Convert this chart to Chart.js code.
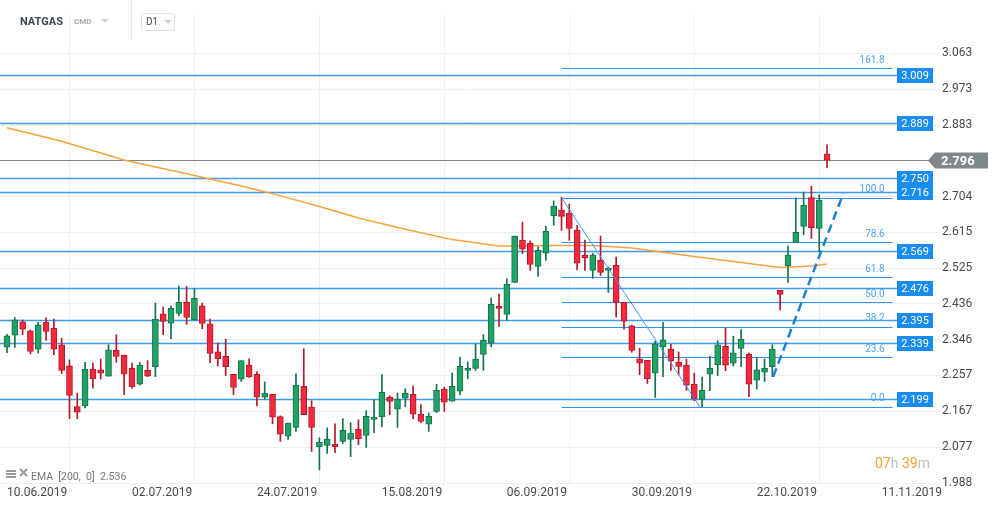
<!DOCTYPE html>
<html>
<head>
<meta charset="utf-8">
<script src="https://cdn.jsdelivr.net/npm/chart.js@4.4.1/dist/chart.umd.min.js"></script>
<style>
  html, body { margin: 0; padding: 0; background: #fff; }
  #wrap { width: 1001px; height: 509px; position: relative; }
</style>
</head>
<body>
<div id="wrap"><canvas id="chart" width="1001" height="509"></canvas></div>
<script>
// daily candles, index 0 = 10.06.2019
const opens = [2.328, 2.358, 2.391, 2.369, 2.323, 2.390, 2.375, 2.334, 2.281, 2.179,
  2.181, 2.273, 2.271, 2.255, 2.320, 2.308, 2.275, 2.235, 2.270, 2.279,
  2.411, 2.388, 2.412, 2.440, 2.396, 2.431, 2.386, 2.316, 2.305, 2.260,
  2.248, 2.283, 2.260, 2.203, 2.210, 2.154, 2.105, 2.127, 2.230, 2.178,
  2.079, 2.082, 2.085, 2.092, 2.097, 2.122, 2.107, 2.147, 2.154, 2.203,
  2.173, 2.200, 2.210, 2.160, 2.135, 2.167, 2.223, 2.193, 2.218, 2.270,
  2.275, 2.310, 2.338, 2.430, 2.410, 2.490, 2.596, 2.588, 2.530, 2.563,
  2.657, 2.671, 2.663, 2.621, 2.558, 2.520, 2.546, 2.520, 2.533, 2.440,
  2.381, 2.299, 2.295, 2.263, 2.329, 2.323, 2.290, 2.283, 2.235, 2.197,
  2.260, 2.284, 2.330, 2.288, 2.325, 2.310, 2.245, 2.265, 2.279, 2.470,
  2.532, 2.590, 2.630, 2.702, 2.625, 2.811]
const highs = [2.360, 2.402, 2.396, 2.371, 2.390, 2.401, 2.398, 2.350, 2.296, 2.213,
  2.290, 2.288, 2.298, 2.334, 2.359, 2.308, 2.288, 2.290, 2.294, 2.438,
  2.428, 2.431, 2.481, 2.480, 2.474, 2.438, 2.398, 2.338, 2.348, 2.260,
  2.294, 2.299, 2.266, 2.241, 2.210, 2.156, 2.138, 2.261, 2.324, 2.194,
  2.101, 2.126, 2.136, 2.149, 2.139, 2.146, 2.169, 2.196, 2.259, 2.206,
  2.213, 2.224, 2.231, 2.184, 2.163, 2.235, 2.228, 2.263, 2.303, 2.291,
  2.336, 2.359, 2.451, 2.461, 2.499, 2.606, 2.641, 2.594, 2.579, 2.631,
  2.694, 2.703, 2.686, 2.633, 2.596, 2.563, 2.606, 2.528, 2.553, 2.440,
  2.383, 2.325, 2.295, 2.343, 2.390, 2.335, 2.316, 2.298, 2.263, 2.253,
  2.305, 2.344, 2.376, 2.355, 2.372, 2.313, 2.303, 2.298, 2.334, 2.470,
  2.581, 2.701, 2.716, 2.731, 2.709, 2.834]
const lows = [2.314, 2.327, 2.359, 2.311, 2.313, 2.345, 2.309, 2.262, 2.149, 2.149,
  2.176, 2.225, 2.248, 2.255, 2.290, 2.209, 2.225, 2.233, 2.254, 2.254,
  2.359, 2.349, 2.406, 2.385, 2.395, 2.374, 2.289, 2.281, 2.257, 2.209,
  2.242, 2.252, 2.181, 2.198, 2.136, 2.092, 2.097, 2.117, 2.159, 2.067,
  2.021, 2.062, 2.064, 2.087, 2.054, 2.084, 2.077, 2.114, 2.129, 2.159,
  2.127, 2.179, 2.149, 2.139, 2.117, 2.164, 2.167, 2.193, 2.209, 2.249,
  2.270, 2.270, 2.329, 2.380, 2.395, 2.490, 2.562, 2.520, 2.505, 2.545,
  2.633, 2.620, 2.595, 2.521, 2.520, 2.500, 2.507, 2.465, 2.403, 2.373,
  2.315, 2.259, 2.237, 2.202, 2.254, 2.270, 2.258, 2.220, 2.194, 2.179,
  2.219, 2.257, 2.269, 2.281, 2.279, 2.204, 2.223, 2.242, 2.254, 2.421,
  2.490, 2.590, 2.609, 2.600, 2.566, 2.777]
const closes = [2.356, 2.396, 2.373, 2.317, 2.384, 2.367, 2.323, 2.270, 2.207, 2.165,
  2.273, 2.249, 2.263, 2.321, 2.305, 2.260, 2.229, 2.283, 2.255, 2.398,
  2.392, 2.425, 2.440, 2.402, 2.450, 2.387, 2.312, 2.299, 2.279, 2.227,
  2.294, 2.254, 2.203, 2.213, 2.153, 2.110, 2.138, 2.233, 2.159, 2.127,
  2.090, 2.098, 2.079, 2.120, 2.113, 2.099, 2.155, 2.153, 2.215, 2.192,
  2.198, 2.213, 2.160, 2.142, 2.155, 2.220, 2.190, 2.230, 2.280, 2.275,
  2.298, 2.345, 2.435, 2.425, 2.485, 2.606, 2.573, 2.535, 2.570, 2.618,
  2.681, 2.655, 2.625, 2.538, 2.552, 2.558, 2.515, 2.525, 2.440, 2.393,
  2.320, 2.288, 2.249, 2.336, 2.346, 2.293, 2.280, 2.233, 2.199, 2.220,
  2.275, 2.334, 2.283, 2.314, 2.348, 2.235, 2.271, 2.275, 2.323, 2.460,
  2.558, 2.615, 2.683, 2.627, 2.696, 2.796]

// EMA(200) read at a few candle indexes
const emaIdx = [0, 7, 15, 23, 30, 34, 40, 45, 51, 57, 63, 70, 75, 80, 88, 94, 99, 103, 105]
const emaVals = [2.877, 2.843, 2.796, 2.762, 2.731, 2.712, 2.680, 2.651, 2.623, 2.597,
  2.581, 2.582, 2.582, 2.576, 2.555, 2.540, 2.527, 2.531, 2.536]

const dateTickIdx = [0, 16, 32, 48, 64, 80, 96, 112]
const dateLabels = ['10.06.2019', '02.07.2019', '24.07.2019', '15.08.2019', '06.09.2019', '30.09.2019', '22.10.2019', '11.11.2019']
const priceTicks = [1.988, 2.077, 2.167, 2.257, 2.346, 2.436, 2.525, 2.615, 2.704, 2.794, 2.883, 2.973, 3.063]

const levels = [3.009, 2.889, 2.750, 2.716, 2.569, 2.476, 2.395, 2.339, 2.199]
const fibRatios = [0, 23.6, 38.2, 50, 61.8, 78.6, 100, 161.8]
const fibHigh = 2.702
const fibLow = 2.179
const fibFrom = 71
const fibTo = 113.4

const trendDownIdx = [71, 88.7]
const trendDownVals = [2.702, 2.179]
const trendUpIdx = [98.1, 107.1]
const trendUpVals = [2.254, 2.713]

const GREEN = '#22a366', GREEN_DARK = '#13724a'
const RED = '#f2283d', RED_DARK = '#b3192a'
const BLUE = '#1a8cf0'
const FONT = 'Roboto, "Open Sans", sans-serif'

const isUp = (i) => closes[i] >= opens[i]
const lastClose = closes[closes.length - 1]

const overlay = {
  id: 'overlay',
  beforeDatasetsDraw(chart) {
    const { ctx, chartArea: a } = chart
    const xs = chart.scales.x, ys = chart.scales.y
    ctx.save()
    // horizontal levels
    ctx.strokeStyle = '#3d9cf0'
    ctx.lineWidth = 1.5
    levels.forEach(v => {
      const y = Math.round(ys.getPixelForValue(v)) + 0.5
      ctx.beginPath(); ctx.moveTo(a.left, y); ctx.lineTo(897, y); ctx.stroke()
    })
    // fibonacci
    ctx.strokeStyle = '#2a93f5'
    ctx.lineWidth = 1.2
    const x0 = xs.getPixelForValue(fibFrom), x1 = xs.getPixelForValue(fibTo)
    fibRatios.forEach(r => {
      const y = Math.round(ys.getPixelForValue(fibLow + (fibHigh - fibLow) * r / 100)) + 0.5
      ctx.beginPath(); ctx.moveTo(x0, y); ctx.lineTo(x1, y); ctx.stroke()
    })
    // last price line
    const py = Math.round(ys.getPixelForValue(lastClose)) + 0.5
    ctx.strokeStyle = '#80878b'
    ctx.lineWidth = 1
    ctx.beginPath(); ctx.moveTo(a.left, py); ctx.lineTo(930, py); ctx.stroke()
    ctx.restore()
  },
  afterDraw(chart) {
    const { ctx } = chart
    const xs = chart.scales.x, ys = chart.scales.y
    ctx.save()
    // level boxes
    ctx.font = '11px ' + FONT
    ctx.textAlign = 'center'
    ctx.textBaseline = 'middle'
    levels.forEach(v => {
      const y = Math.round(ys.getPixelForValue(v))
      ctx.fillStyle = BLUE
      ctx.fillRect(897, y - 7, 36, 15)
      ctx.fillStyle = '#fff'
      ctx.fillText(v.toFixed(3), 915, y + 1)
    })
    // fib labels
    ctx.font = '10px ' + FONT
    ctx.textAlign = 'right'
    ctx.fillStyle = '#4ea6f3'
    const xe = xs.getPixelForValue(fibTo) - 8
    fibRatios.forEach(r => {
      const y = ys.getPixelForValue(fibLow + (fibHigh - fibLow) * r / 100)
      ctx.fillText(r.toFixed(1), xe, y - 8)
    })
    // last price tag
    const py = Math.round(ys.getPixelForValue(lastClose)) + 0.5
    ctx.fillStyle = '#80878b'
    ctx.beginPath()
    ctx.moveTo(928, py); ctx.lineTo(935, py - 8); ctx.lineTo(988, py - 8)
    ctx.lineTo(988, py + 8); ctx.lineTo(935, py + 8); ctx.closePath(); ctx.fill()
    ctx.fillStyle = '#fff'
    ctx.font = 'bold 13px ' + FONT
    ctx.textAlign = 'left'
    ctx.fillText(lastClose.toFixed(3), 941, py + 1)

    // header
    ctx.textBaseline = 'middle'
    ctx.fillStyle = '#3d4852'
    ctx.font = 'bold 11px ' + FONT
    ctx.fillText('NATGAS', 20, 22)
    ctx.fillStyle = '#a3aab0'
    ctx.font = 'bold 8px ' + FONT
    ctx.fillText('CMD', 74, 22)
    ctx.fillStyle = '#d0d4d7'
    ctx.beginPath(); ctx.moveTo(101, 19); ctx.lineTo(109, 19); ctx.lineTo(105, 23); ctx.fill()
    ctx.strokeStyle = '#ececec'
    ctx.lineWidth = 1
    ctx.beginPath(); ctx.moveTo(131.5, 0); ctx.lineTo(131.5, 40); ctx.stroke()
    ctx.strokeStyle = '#dcdfe2'
    ctx.beginPath(); ctx.roundRect(141.5, 13.5, 33, 17, 2); ctx.stroke()
    ctx.fillStyle = '#3d4852'
    ctx.font = '10px ' + FONT
    ctx.fillText('D1', 146, 22)
    ctx.fillStyle = '#d0d4d7'
    ctx.beginPath(); ctx.moveTo(164, 20); ctx.lineTo(172, 20); ctx.lineTo(168, 24); ctx.fill()

    // EMA legend
    ctx.fillStyle = '#9a9a9a'
    ctx.fillRect(6, 470, 10, 2); ctx.fillRect(6, 473, 10, 2); ctx.fillRect(6, 476, 10, 2)
    ctx.strokeStyle = '#9a9a9a'
    ctx.lineWidth = 2
    ctx.beginPath(); ctx.moveTo(20, 469); ctx.lineTo(27, 476); ctx.moveTo(27, 469); ctx.lineTo(20, 476); ctx.stroke()
    ctx.fillStyle = '#777'
    ctx.font = '10.5px ' + FONT
    ctx.fillText('EMA  [200,  0]  ' + emaVals[emaVals.length - 1].toFixed(3), 31, 477)

    // countdown
    ctx.font = '14px ' + FONT
    let cx = 875
    const parts = [['07', '#f7a12f'], ['h ', '#c0c0c0'], ['39', '#f7a12f'], ['m', '#c0c0c0']]
    parts.forEach(([t, c]) => {
      ctx.fillStyle = c
      ctx.fillText(t, cx, 464)
      cx += ctx.measureText(t).width
    })
    ctx.restore()
  }
}

new Chart(document.getElementById('chart'), {
  type: 'bar',
  data: {
    datasets: [
      {
        type: 'line',
        data: emaIdx.map((x, i) => ({ x, y: emaVals[i] })),
        borderColor: '#f7a23b',
        borderWidth: 1.5,
        pointRadius: 0,
        order: 3
      },
      {
        data: highs.map((h, i) => ({ x: i, y: [lows[i], h] })),
        backgroundColor: ctx => isUp(ctx.dataIndex) ? GREEN_DARK : RED_DARK,
        barThickness: 1,
        grouped: false,
        order: 2
      },
      {
        data: opens.map((o, i) => ({ x: i, y: [o, closes[i]] })),
        backgroundColor: ctx => isUp(ctx.dataIndex) ? GREEN : RED,
        borderColor: ctx => isUp(ctx.dataIndex) ? GREEN_DARK : RED_DARK,
        borderWidth: 1,
        borderSkipped: false,
        barThickness: 6,
        minBarLength: 2,
        grouped: false,
        order: 1
      },
      {
        type: 'line',
        data: trendDownIdx.map((x, i) => ({ x, y: trendDownVals[i] })),
        borderColor: '#3a9bff',
        borderWidth: 1,
        pointRadius: 0,
        order: 0
      },
      {
        type: 'line',
        data: trendUpIdx.map((x, i) => ({ x, y: trendUpVals[i] })),
        borderColor: '#1f80d8',
        borderWidth: 2.5,
        borderDash: [9, 5],
        pointRadius: 0,
        order: 0
      }
    ]
  },
  options: {
    responsive: false,
    animation: false,
    devicePixelRatio: 1,
    layout: { padding: { top: 15, left: 0, right: 0, bottom: 0 } },
    plugins: { legend: { display: false }, tooltip: { enabled: false } },
    scales: {
      x: {
        type: 'linear',
        min: -0.896,
        max: 119.08,
        offset: false,
        grid: { color: '#f0f0f0', drawTicks: false },
        border: { display: false },
        afterBuildTicks: s => { s.ticks = dateTickIdx.map(v => ({ value: v })) },
        afterFit: s => { s.height = 26 },
        ticks: {
          align: 'start',
          autoSkip: false,
          maxRotation: 0,
          padding: 3,
          color: '#4a4a4a',
          font: { family: FONT, size: 12 },
          callback: v => dateLabels[dateTickIdx.indexOf(v)]
        }
      },
      y: {
        position: 'right',
        min: 1.988,
        max: 3.159,
        grid: { color: '#eeeeee', tickLength: 3 },
        border: { display: false },
        afterBuildTicks: s => { s.ticks = priceTicks.map(v => ({ value: v })) },
        afterFit: s => { s.width = 64 },
        ticks: {
          padding: 2,
          color: '#4a4a4a',
          font: { family: FONT, size: 12 },
          callback: v => v.toFixed(3)
        }
      }
    }
  },
  plugins: [overlay]
})
</script>
</body>
</html>
